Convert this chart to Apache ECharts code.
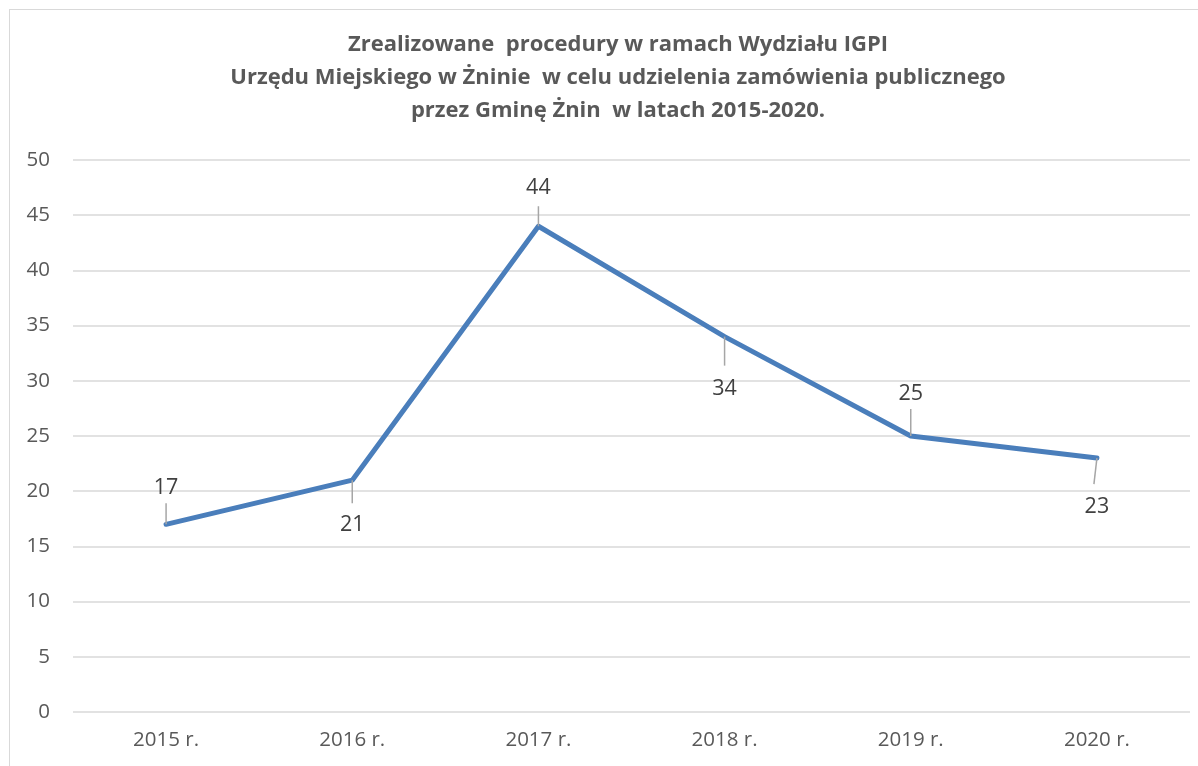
<!DOCTYPE html>
<html><head><meta charset="utf-8">
<script src="https://cdn.jsdelivr.net/npm/echarts@6/dist/echarts.min.js"></script>
<style>
html,body{margin:0;padding:0;background:#fff;overflow:hidden;}
#frame{position:absolute;left:9px;top:9px;width:1220px;height:780px;border:1px solid #d9d9d9;box-sizing:border-box;}
#chart{position:absolute;left:0;top:0;width:1198px;height:766px;}
</style></head>
<body>
<div id="frame"></div>
<div id="chart"></div>
<script>
var categories = ['2015 r.', '2016 r.', '2017 r.', '2018 r.', '2019 r.', '2020 r.'];
var values = [17, 21, 44, 34, 25, 23];
var titleText = 'Zrealizowane  procedury w ramach Wydziału IGPI\nUrzędu Miejskiego w Żninie  w celu udzielenia zamówienia publicznego\nprzez Gminę Żnin  w latach 2015-2020.';

// label placement styling (pixel offsets from each point)
var labelDy = [-36, 45, -38, 52, -42, 49];
var leaderLen = [21, 23, 20, 29, 27, 26];
var leaderDx = [0, 0, 0, 0, 0, -3];

var chart = echarts.init(document.getElementById('chart'));
var font = '"Open Sans", "DejaVu Sans", sans-serif';
chart.setOption({
  animation: false,
  title: {
    text: titleText,
    left: 613, textAlign: 'center', top: 23,
    textStyle: {fontFamily: font, fontWeight: 'bold', fontSize: 22, color: '#595959', lineHeight: 33}
  },
  grid: {left: 73, right: 8, top: 160, bottom: 54},
  xAxis: {
    type: 'category', data: categories, boundaryGap: true,
    axisLine: {show: false}, axisTick: {show: false},
    axisLabel: {fontFamily: font, fontSize: 20.5, color: '#595959', margin: 18}
  },
  yAxis: {
    type: 'value', min: 0, max: 50, interval: 5,
    axisLine: {show: false}, axisTick: {show: false},
    splitLine: {lineStyle: {color: '#d9d9d9', width: 1.5}},
    axisLabel: {fontFamily: font, fontSize: 20.5, color: '#595959', margin: 23}
  },
  series: [{
    type: 'line', data: values, symbol: 'none', z: 3,
    lineStyle: {color: '#4a7ebb', width: 5, cap: 'round', join: 'round'},
    label: {show: false}
  }, {
    type: 'custom', z: 4,
    data: values.map(function (v, i) { return [i, v]; }),
    renderItem: function (params, api) {
      var i = api.value(0);
      var p = api.coord([i, api.value(1)]);
      var s = labelDy[i] < 0 ? -1 : 1;
      return {
        type: 'group',
        children: [{
          type: 'line',
          shape: {x1: p[0], y1: p[1], x2: p[0] + leaderDx[i], y2: p[1] + s * leaderLen[i]},
          style: {stroke: '#a6a6a6', lineWidth: 1.5}
        }, {
          type: 'text',
          style: {
            x: p[0], y: p[1] + labelDy[i], text: String(api.value(1)),
            align: 'center', verticalAlign: 'middle',
            font: '21.5px ' + font, fill: '#404040'
          }
        }]
      };
    }
  }]
});
</script>
</body></html>
